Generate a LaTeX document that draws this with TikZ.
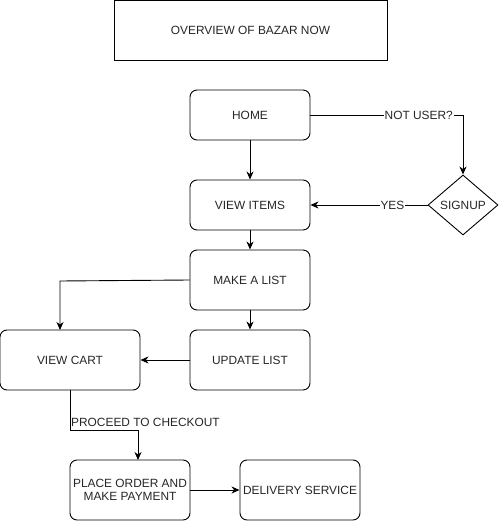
\documentclass[tikz,border=0pt]{standalone}
\usepackage{fontspec}
\setmainfont{Liberation Sans}
\usetikzlibrary{shapes.geometric,arrows.meta}
\begin{document}
\begin{tikzpicture}[x=1pt,y=-1pt,
  font=\fontsize{11.9}{13.5}\selectfont,
  box/.style={draw,line width=0.9pt,rounded corners=7pt,minimum width=120pt,minimum height=60pt,inner sep=1pt,align=center,text=black!85},
  conn/.style={draw,line width=0.9pt,-{Stealth[length=8pt,width=7pt,inset=2.5pt]}},
  lbl/.style={fill=white,inner sep=1pt,text=black!85}]
\useasboundingbox (0,0) rectangle (499,521);
\node[draw,line width=0.9pt,minimum width=273pt,minimum height=60pt,text=black!85] (title) at (250.5,30) {OVERVIEW OF BAZAR NOW};
\node[box,minimum height=50pt] (home) at (250,115) {HOME};
\node[box,minimum height=50pt] (items) at (250,205) {VIEW ITEMS};
\node[draw,line width=0.9pt,diamond,aspect=1.17,minimum width=70pt,minimum height=60pt,inner sep=0pt,text=black!85] (signup) at (463,205) {SIGNUP};
\node[box] (list) at (250,280) {MAKE A LIST};
\node[box] (update) at (250,360) {UPDATE LIST};
\node[box,minimum width=140pt] (cart) at (70,360) {VIEW CART};
\node[box] (order) at (130,490) {PLACE ORDER AND\\MAKE PAYMENT};
\node[box] (deliv) at (300,490) {DELIVERY SERVICE};
\coordinate (c1) at (138,430);
\draw[conn] (home.east) -- node[lbl,pos=0.71]{NOT USER?} (463,115) -- (signup.north);
\draw[conn] (home) -- (items);
\draw[conn] (signup.west) -- node[lbl,pos=0.3]{YES} (items.east);
\draw[conn] (items) -- (list);
\draw[conn] (list) -- (update);
\draw[conn] (list.west) -- (60,281) -- (60,330);
\draw[conn] (update.west) -- (cart.east);
\draw[conn] (70,390) -- (70,430) -- (c1) -- (138,460);
\node[anchor=south west,inner sep=1pt,text=black!85] (pc) at (70,428) {PROCEED TO CHECKOUT};
\draw[conn] (order.east) -- (deliv.west);
\end{tikzpicture}
\end{document}
